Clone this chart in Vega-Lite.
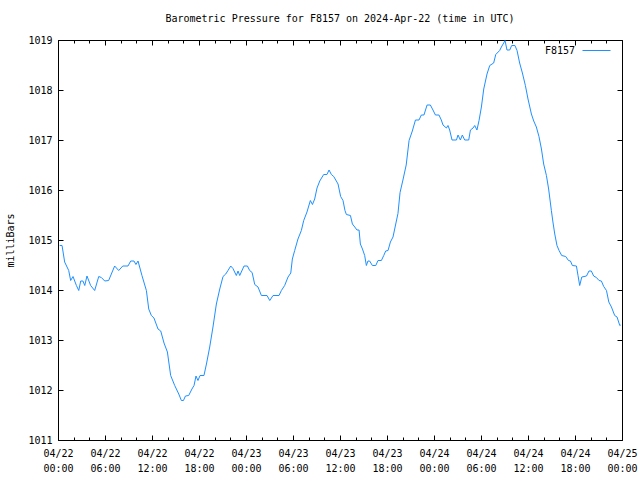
{
  "$schema": "https://vega.github.io/schema/vega-lite/v6.json",
  "autosize": "none",
  "width": 564,
  "height": 400,
  "padding": {"left": 58, "top": 40, "right": 18, "bottom": 40},
  "background": "white",
  "title": {"text": "Barometric Pressure for F8157 on 2024-Apr-22 (time in UTC)", "font": "DejaVu Sans Mono", "fontSize": 10, "fontWeight": "normal", "color": "black", "anchor": "middle", "offset": 11},
  "config": {
    "view": {"stroke": null},
    "axis": {"grid": false, "domainColor": "black", "tickColor": "black", "labelColor": "black", "titleColor": "black", "labelFont": "DejaVu Sans Mono", "titleFont": "DejaVu Sans Mono", "labelFontSize": 10, "titleFontSize": 10, "titleFontWeight": "normal"},
    "legend": {"labelFont": "DejaVu Sans Mono", "labelFontSize": 10}
  },
  "data": {"values": [
    {"t": "2024-04-22T00:13:00Z", "p": 1014.89},
    {"t": "2024-04-22T00:31:00Z", "p": 1014.89},
    {"t": "2024-04-22T00:51:00Z", "p": 1014.56},
    {"t": "2024-04-22T01:22:00Z", "p": 1014.39},
    {"t": "2024-04-22T01:37:00Z", "p": 1014.19},
    {"t": "2024-04-22T01:55:00Z", "p": 1014.27},
    {"t": "2024-04-22T02:21:00Z", "p": 1014.09},
    {"t": "2024-04-22T02:39:00Z", "p": 1013.99},
    {"t": "2024-04-22T02:54:00Z", "p": 1014.18},
    {"t": "2024-04-22T03:11:00Z", "p": 1014.18},
    {"t": "2024-04-22T03:25:00Z", "p": 1014.09},
    {"t": "2024-04-22T03:42:00Z", "p": 1014.28},
    {"t": "2024-04-22T04:10:00Z", "p": 1014.09},
    {"t": "2024-04-22T04:41:00Z", "p": 1013.99},
    {"t": "2024-04-22T05:12:00Z", "p": 1014.27},
    {"t": "2024-04-22T05:32:00Z", "p": 1014.25},
    {"t": "2024-04-22T05:58:00Z", "p": 1014.18},
    {"t": "2024-04-22T06:28:00Z", "p": 1014.19},
    {"t": "2024-04-22T07:14:00Z", "p": 1014.48},
    {"t": "2024-04-22T07:45:00Z", "p": 1014.39},
    {"t": "2024-04-22T08:16:00Z", "p": 1014.48},
    {"t": "2024-04-22T08:56:00Z", "p": 1014.48},
    {"t": "2024-04-22T09:17:00Z", "p": 1014.58},
    {"t": "2024-04-22T09:42:00Z", "p": 1014.58},
    {"t": "2024-04-22T09:57:00Z", "p": 1014.51},
    {"t": "2024-04-22T10:13:00Z", "p": 1014.58},
    {"t": "2024-04-22T10:43:00Z", "p": 1014.29},
    {"t": "2024-04-22T11:17:00Z", "p": 1013.99},
    {"t": "2024-04-22T11:35:00Z", "p": 1013.62},
    {"t": "2024-04-22T11:55:00Z", "p": 1013.49},
    {"t": "2024-04-22T12:15:00Z", "p": 1013.44},
    {"t": "2024-04-22T12:46:00Z", "p": 1013.22},
    {"t": "2024-04-22T13:07:00Z", "p": 1013.18},
    {"t": "2024-04-22T13:32:00Z", "p": 1012.94},
    {"t": "2024-04-22T13:58:00Z", "p": 1012.76},
    {"t": "2024-04-22T14:23:00Z", "p": 1012.29},
    {"t": "2024-04-22T14:54:00Z", "p": 1012.09},
    {"t": "2024-04-22T15:25:00Z", "p": 1011.92},
    {"t": "2024-04-22T15:45:00Z", "p": 1011.79},
    {"t": "2024-04-22T16:01:00Z", "p": 1011.79},
    {"t": "2024-04-22T16:16:00Z", "p": 1011.88},
    {"t": "2024-04-22T16:41:00Z", "p": 1011.89},
    {"t": "2024-04-22T17:06:00Z", "p": 1012.02},
    {"t": "2024-04-22T17:22:00Z", "p": 1012.09},
    {"t": "2024-04-22T17:37:00Z", "p": 1012.28},
    {"t": "2024-04-22T17:52:00Z", "p": 1012.19},
    {"t": "2024-04-22T18:08:00Z", "p": 1012.29},
    {"t": "2024-04-22T18:38:00Z", "p": 1012.29},
    {"t": "2024-04-22T18:57:00Z", "p": 1012.52},
    {"t": "2024-04-22T19:22:00Z", "p": 1012.86},
    {"t": "2024-04-22T19:47:00Z", "p": 1013.26},
    {"t": "2024-04-22T20:13:00Z", "p": 1013.72},
    {"t": "2024-04-22T20:39:00Z", "p": 1014.02},
    {"t": "2024-04-22T21:04:00Z", "p": 1014.27},
    {"t": "2024-04-22T21:25:00Z", "p": 1014.32},
    {"t": "2024-04-22T21:42:00Z", "p": 1014.39},
    {"t": "2024-04-22T22:03:00Z", "p": 1014.48},
    {"t": "2024-04-22T22:20:00Z", "p": 1014.43},
    {"t": "2024-04-22T22:46:00Z", "p": 1014.29},
    {"t": "2024-04-22T22:59:00Z", "p": 1014.38},
    {"t": "2024-04-22T23:12:00Z", "p": 1014.29},
    {"t": "2024-04-22T23:45:00Z", "p": 1014.48},
    {"t": "2024-04-23T00:11:00Z", "p": 1014.48},
    {"t": "2024-04-23T00:28:00Z", "p": 1014.39},
    {"t": "2024-04-23T00:47:00Z", "p": 1014.35},
    {"t": "2024-04-23T01:07:00Z", "p": 1014.11},
    {"t": "2024-04-23T01:32:00Z", "p": 1014.06},
    {"t": "2024-04-23T01:58:00Z", "p": 1013.89},
    {"t": "2024-04-23T02:41:00Z", "p": 1013.89},
    {"t": "2024-04-23T03:02:00Z", "p": 1013.79},
    {"t": "2024-04-23T03:27:00Z", "p": 1013.89},
    {"t": "2024-04-23T04:13:00Z", "p": 1013.89},
    {"t": "2024-04-23T04:31:00Z", "p": 1013.99},
    {"t": "2024-04-23T04:56:00Z", "p": 1014.09},
    {"t": "2024-04-23T05:22:00Z", "p": 1014.26},
    {"t": "2024-04-23T05:43:00Z", "p": 1014.34},
    {"t": "2024-04-23T05:55:00Z", "p": 1014.62},
    {"t": "2024-04-23T06:13:00Z", "p": 1014.79},
    {"t": "2024-04-23T06:38:00Z", "p": 1015.02},
    {"t": "2024-04-23T07:04:00Z", "p": 1015.19},
    {"t": "2024-04-23T07:22:00Z", "p": 1015.39},
    {"t": "2024-04-23T07:47:00Z", "p": 1015.56},
    {"t": "2024-04-23T08:13:00Z", "p": 1015.79},
    {"t": "2024-04-23T08:29:00Z", "p": 1015.71},
    {"t": "2024-04-23T08:46:00Z", "p": 1015.82},
    {"t": "2024-04-23T09:04:00Z", "p": 1016.04},
    {"t": "2024-04-23T09:25:00Z", "p": 1016.18},
    {"t": "2024-04-23T09:55:00Z", "p": 1016.31},
    {"t": "2024-04-23T10:20:00Z", "p": 1016.31},
    {"t": "2024-04-23T10:36:00Z", "p": 1016.40},
    {"t": "2024-04-23T10:54:00Z", "p": 1016.31},
    {"t": "2024-04-23T11:12:00Z", "p": 1016.27},
    {"t": "2024-04-23T11:45:00Z", "p": 1016.12},
    {"t": "2024-04-23T12:05:00Z", "p": 1015.87},
    {"t": "2024-04-23T12:23:00Z", "p": 1015.79},
    {"t": "2024-04-23T12:38:00Z", "p": 1015.59},
    {"t": "2024-04-23T12:49:00Z", "p": 1015.51},
    {"t": "2024-04-23T13:20:00Z", "p": 1015.49},
    {"t": "2024-04-23T13:35:00Z", "p": 1015.32},
    {"t": "2024-04-23T13:53:00Z", "p": 1015.26},
    {"t": "2024-04-23T14:10:00Z", "p": 1015.20},
    {"t": "2024-04-23T14:26:00Z", "p": 1015.20},
    {"t": "2024-04-23T14:36:00Z", "p": 1014.92},
    {"t": "2024-04-23T14:52:00Z", "p": 1014.82},
    {"t": "2024-04-23T15:09:00Z", "p": 1014.69},
    {"t": "2024-04-23T15:22:00Z", "p": 1014.49},
    {"t": "2024-04-23T15:34:00Z", "p": 1014.58},
    {"t": "2024-04-23T15:47:00Z", "p": 1014.58},
    {"t": "2024-04-23T16:08:00Z", "p": 1014.49},
    {"t": "2024-04-23T16:34:00Z", "p": 1014.49},
    {"t": "2024-04-23T16:51:00Z", "p": 1014.59},
    {"t": "2024-04-23T17:17:00Z", "p": 1014.59},
    {"t": "2024-04-23T17:35:00Z", "p": 1014.69},
    {"t": "2024-04-23T17:50:00Z", "p": 1014.78},
    {"t": "2024-04-23T18:08:00Z", "p": 1014.79},
    {"t": "2024-04-23T18:26:00Z", "p": 1014.96},
    {"t": "2024-04-23T18:46:00Z", "p": 1015.06},
    {"t": "2024-04-23T19:07:00Z", "p": 1015.32},
    {"t": "2024-04-23T19:24:00Z", "p": 1015.53},
    {"t": "2024-04-23T19:40:00Z", "p": 1015.95},
    {"t": "2024-04-23T20:02:00Z", "p": 1016.20},
    {"t": "2024-04-23T20:27:00Z", "p": 1016.50},
    {"t": "2024-04-23T20:49:00Z", "p": 1016.99},
    {"t": "2024-04-23T21:14:00Z", "p": 1017.18},
    {"t": "2024-04-23T21:38:00Z", "p": 1017.40},
    {"t": "2024-04-23T22:05:00Z", "p": 1017.40},
    {"t": "2024-04-23T22:23:00Z", "p": 1017.50},
    {"t": "2024-04-23T22:43:00Z", "p": 1017.50},
    {"t": "2024-04-23T23:07:00Z", "p": 1017.70},
    {"t": "2024-04-23T23:32:00Z", "p": 1017.70},
    {"t": "2024-04-23T23:52:00Z", "p": 1017.60},
    {"t": "2024-04-24T00:11:00Z", "p": 1017.50},
    {"t": "2024-04-24T00:38:00Z", "p": 1017.50},
    {"t": "2024-04-24T00:56:00Z", "p": 1017.40},
    {"t": "2024-04-24T01:09:00Z", "p": 1017.30},
    {"t": "2024-04-24T01:35:00Z", "p": 1017.24},
    {"t": "2024-04-24T01:47:00Z", "p": 1017.29},
    {"t": "2024-04-24T02:00:00Z", "p": 1017.20},
    {"t": "2024-04-24T02:18:00Z", "p": 1017.00},
    {"t": "2024-04-24T02:52:00Z", "p": 1017.00},
    {"t": "2024-04-24T03:04:00Z", "p": 1017.10},
    {"t": "2024-04-24T03:22:00Z", "p": 1017.00},
    {"t": "2024-04-24T03:37:00Z", "p": 1017.10},
    {"t": "2024-04-24T03:55:00Z", "p": 1017.00},
    {"t": "2024-04-24T04:26:00Z", "p": 1017.00},
    {"t": "2024-04-24T04:39:00Z", "p": 1017.20},
    {"t": "2024-04-24T04:59:00Z", "p": 1017.24},
    {"t": "2024-04-24T05:12:00Z", "p": 1017.29},
    {"t": "2024-04-24T05:29:00Z", "p": 1017.20},
    {"t": "2024-04-24T05:45:00Z", "p": 1017.39},
    {"t": "2024-04-24T06:03:00Z", "p": 1017.66},
    {"t": "2024-04-24T06:21:00Z", "p": 1018.02},
    {"t": "2024-04-24T06:46:00Z", "p": 1018.32},
    {"t": "2024-04-24T07:07:00Z", "p": 1018.49},
    {"t": "2024-04-24T07:37:00Z", "p": 1018.54},
    {"t": "2024-04-24T07:53:00Z", "p": 1018.71},
    {"t": "2024-04-24T08:23:00Z", "p": 1018.79},
    {"t": "2024-04-24T08:36:00Z", "p": 1018.86},
    {"t": "2024-04-24T08:54:00Z", "p": 1018.94},
    {"t": "2024-04-24T09:04:00Z", "p": 1018.99},
    {"t": "2024-04-24T09:19:00Z", "p": 1018.80},
    {"t": "2024-04-24T09:40:00Z", "p": 1018.80},
    {"t": "2024-04-24T09:55:00Z", "p": 1018.89},
    {"t": "2024-04-24T10:20:00Z", "p": 1018.89},
    {"t": "2024-04-24T10:36:00Z", "p": 1018.79},
    {"t": "2024-04-24T10:56:00Z", "p": 1018.54},
    {"t": "2024-04-24T11:17:00Z", "p": 1018.34},
    {"t": "2024-04-24T11:40:00Z", "p": 1018.09},
    {"t": "2024-04-24T12:00:00Z", "p": 1017.82},
    {"t": "2024-04-24T12:26:00Z", "p": 1017.52},
    {"t": "2024-04-24T12:44:00Z", "p": 1017.38},
    {"t": "2024-04-24T13:04:00Z", "p": 1017.26},
    {"t": "2024-04-24T13:24:00Z", "p": 1017.07},
    {"t": "2024-04-24T13:43:00Z", "p": 1016.82},
    {"t": "2024-04-24T14:00:00Z", "p": 1016.52},
    {"t": "2024-04-24T14:21:00Z", "p": 1016.29},
    {"t": "2024-04-24T14:38:00Z", "p": 1016.02},
    {"t": "2024-04-24T14:59:00Z", "p": 1015.59},
    {"t": "2024-04-24T15:11:00Z", "p": 1015.36},
    {"t": "2024-04-24T15:25:00Z", "p": 1015.12},
    {"t": "2024-04-24T15:42:00Z", "p": 1014.89},
    {"t": "2024-04-24T15:58:00Z", "p": 1014.79},
    {"t": "2024-04-24T16:18:00Z", "p": 1014.69},
    {"t": "2024-04-24T16:49:00Z", "p": 1014.67},
    {"t": "2024-04-24T17:10:00Z", "p": 1014.59},
    {"t": "2024-04-24T17:25:00Z", "p": 1014.58},
    {"t": "2024-04-24T17:40:00Z", "p": 1014.49},
    {"t": "2024-04-24T18:11:00Z", "p": 1014.48},
    {"t": "2024-04-24T18:23:00Z", "p": 1014.29},
    {"t": "2024-04-24T18:36:00Z", "p": 1014.09},
    {"t": "2024-04-24T18:52:00Z", "p": 1014.26},
    {"t": "2024-04-24T19:28:00Z", "p": 1014.28},
    {"t": "2024-04-24T19:47:00Z", "p": 1014.38},
    {"t": "2024-04-24T20:05:00Z", "p": 1014.38},
    {"t": "2024-04-24T20:23:00Z", "p": 1014.28},
    {"t": "2024-04-24T20:44:00Z", "p": 1014.25},
    {"t": "2024-04-24T21:04:00Z", "p": 1014.19},
    {"t": "2024-04-24T21:22:00Z", "p": 1014.18},
    {"t": "2024-04-24T21:40:00Z", "p": 1014.07},
    {"t": "2024-04-24T22:01:00Z", "p": 1013.99},
    {"t": "2024-04-24T22:19:00Z", "p": 1013.76},
    {"t": "2024-04-24T22:39:00Z", "p": 1013.66},
    {"t": "2024-04-24T23:04:00Z", "p": 1013.49},
    {"t": "2024-04-24T23:22:00Z", "p": 1013.46},
    {"t": "2024-04-24T23:43:00Z", "p": 1013.29},
    {"t": "2024-04-24T23:50:00Z", "p": 1013.30}
  ]},
  "resolve": {"axis": {"x": "independent", "y": "independent"}},
  "layer": [
    {
      "mark": {"type": "line", "strokeWidth": 1},
      "encoding": {
        "x": {"field": "t", "type": "temporal",
          "scale": {"type": "utc", "domain": [1713744000000, 1714003200000], "nice": false},
          "axis": {"orient": "bottom", "title": null, "values": [1713744000000, 1713765600000, 1713787200000, 1713808800000, 1713830400000, 1713852000000, 1713873600000, 1713895200000, 1713916800000, 1713938400000, 1713960000000, 1713981600000, 1714003200000], "tickSize": -5, "labelPadding": 13, "labelExpr": "[utcFormat(datum.value, '%m/%d'), utcFormat(datum.value, '%H:%M')]", "labelLineHeight": 15, "labelFlush": false}},
        "y": {"field": "p", "type": "quantitative",
          "scale": {"domain": [1011, 1019], "nice": false, "zero": false},
          "axis": {"orient": "left", "title": "milliBars", "values": [1011, 1012, 1013, 1014, 1015, 1016, 1017, 1018, 1019], "format": "d", "tickSize": -5, "labelPadding": 11, "labelFlush": false, "titleX": -48, "titleY": 200, "titleAngle": -90, "titleBaseline": "middle", "titleAlign": "center"}},
        "color": {"datum": "F8157", "type": "nominal", "scale": {"range": ["#1e90ff"]},
          "legend": {"title": null, "orient": "none", "legendX": 524, "legendY": -4, "symbolType": "stroke", "symbolSize": 784, "symbolStrokeWidth": 1, "labelAlign": "right", "labelOffset": -36, "labelColor": "black"}}
      }
    },
    {
      "mark": {"type": "line", "opacity": 0},
      "encoding": {
        "x": {"field": "t", "type": "temporal", "axis": {"orient": "top", "title": null, "labels": false, "values": [1713744000000, 1713765600000, 1713787200000, 1713808800000, 1713830400000, 1713852000000, 1713873600000, 1713895200000, 1713916800000, 1713938400000, 1713960000000, 1713981600000, 1714003200000], "tickSize": -5}},
        "y": {"field": "p", "type": "quantitative", "axis": {"orient": "right", "title": null, "labels": false, "values": [1011, 1012, 1013, 1014, 1015, 1016, 1017, 1018, 1019], "tickSize": -5}}
      }
    },
    {
      "mark": {"type": "line", "opacity": 0},
      "encoding": {
        "x": {"field": "t", "type": "temporal", "axis": {"orient": "bottom", "title": null, "labels": false, "domain": false, "values": [1713744000000, 1713751200000, 1713758400000, 1713765600000, 1713772800000, 1713780000000, 1713787200000, 1713794400000, 1713801600000, 1713808800000, 1713816000000, 1713823200000, 1713830400000, 1713837600000, 1713844800000, 1713852000000, 1713859200000, 1713866400000, 1713873600000, 1713880800000, 1713888000000, 1713895200000, 1713902400000, 1713909600000, 1713916800000, 1713924000000, 1713931200000, 1713938400000, 1713945600000, 1713952800000, 1713960000000, 1713967200000, 1713974400000, 1713981600000, 1713988800000, 1713996000000, 1714003200000], "tickSize": -3}},
        "y": {"field": "p", "type": "quantitative", "axis": null}
      }
    },
    {
      "mark": {"type": "line", "opacity": 0},
      "encoding": {
        "x": {"field": "t", "type": "temporal", "axis": {"orient": "top", "title": null, "labels": false, "domain": false, "values": [1713744000000, 1713751200000, 1713758400000, 1713765600000, 1713772800000, 1713780000000, 1713787200000, 1713794400000, 1713801600000, 1713808800000, 1713816000000, 1713823200000, 1713830400000, 1713837600000, 1713844800000, 1713852000000, 1713859200000, 1713866400000, 1713873600000, 1713880800000, 1713888000000, 1713895200000, 1713902400000, 1713909600000, 1713916800000, 1713924000000, 1713931200000, 1713938400000, 1713945600000, 1713952800000, 1713960000000, 1713967200000, 1713974400000, 1713981600000, 1713988800000, 1713996000000, 1714003200000], "tickSize": -3}},
        "y": {"field": "p", "type": "quantitative", "axis": null}
      }
    }
  ]
}
